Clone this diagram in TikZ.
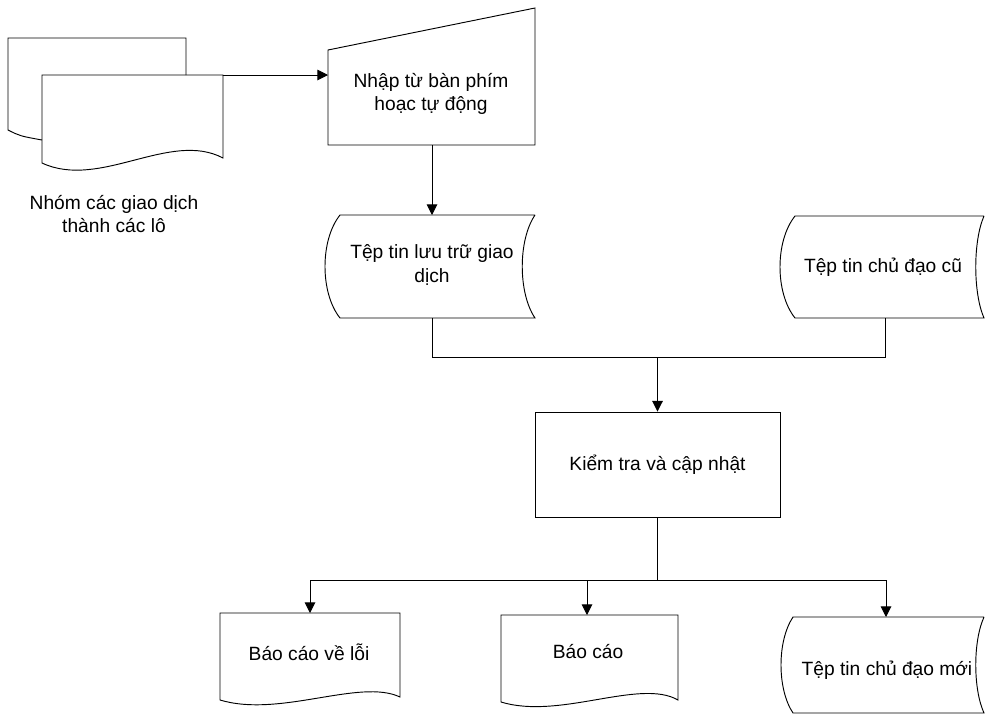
\documentclass[tikz,border=0pt]{standalone}
\usepackage{fontspec}
\setmainfont{Liberation Sans}
\usetikzlibrary{arrows.meta}
\begin{document}
\begin{tikzpicture}[x=0.75pt,y=-0.75pt,
  shp/.style={draw=black,line width=0.7pt},
  conn/.style={draw=black,line width=0.7pt},
  arr/.style={conn,-{Triangle[length=8pt,width=8pt]}},
  lbl/.style={align=center,inner sep=0pt,font=\fontsize{14.4}{17.5}\selectfont}]
\useasboundingbox (0,0) rectangle (985,719);

% ---- multi-document (batch) ----
\draw[shp] (186,75) -- (186,38) -- (8,38) -- (8,130) .. controls (20,136) .. (42,140);
\draw[shp] (42,75) -- (223,75) -- (223,158)
  .. controls (170,130) and (100,190) .. (42,163) -- cycle;
\coordinate (mdocR) at (223,75);
\node[lbl] (grp) at (114,214) {Nhóm các giao dịch\\thành các lô};

% ---- manual input ----
\draw[shp] (328,50) -- (535,8) -- (535,145) -- (328,145) -- cycle;
\coordinate (inpL) at (328,75);
\coordinate (inpB) at (432,145);
\node[lbl] (inp) at (431,94) {Nhập từ bàn phím\\hoạc tự động};

% ---- stored data: transactions ----
\draw[shp] (535,215) -- (340,215) .. controls (320,240) and (320,293) .. (340,318) -- (535,318)
  .. controls (518,293) and (518,240) .. (535,215);
\coordinate (st1T) at (432,215);
\coordinate (st1B) at (432,318);
\node[lbl] (st1) at (432,265) {Tệp tin lưu trữ giao\\dịch};

% ---- stored data: old master ----
\draw[shp] (984,216) -- (795,216) .. controls (775,241) and (775,293) .. (795,318) -- (984,318)
  .. controls (973,293) and (973,241) .. (984,216);
\coordinate (st2B) at (885,318);
\node[lbl] (st2) at (883,267) {Tệp tin chủ đạo cũ};

% ---- process ----
\node[shp,lbl,minimum width=245*0.75pt,minimum height=105*0.75pt] (proc) at (657.5,464.5) {Kiểm tra và cập nhật};

% ---- error report document ----
\draw[shp] (220,613) -- (400,613) -- (400,697)
  .. controls (360,678) and (280,718) .. (220,700) -- cycle;
\coordinate (errT) at (310,613);
\node[lbl] (err) at (309,652) {Báo cáo về lỗi};

% ---- report document ----
\draw[shp] (501,615) -- (678,615) -- (678,700)
  .. controls (640,678) and (560,720) .. (501,702) -- cycle;
\coordinate (repT) at (587,615);
\node[lbl] (rep) at (588,652) {Báo cáo};

% ---- stored data: new master ----
\draw[shp] (984,617) -- (793,617) .. controls (777,641) and (777,689) .. (793,713) -- (984,713)
  .. controls (973,689) and (973,641) .. (984,617);
\coordinate (newT) at (886,617);
\node[lbl] (new) at (887,670) {Tệp tin chủ đạo mới};

% ---- connectors ----
\coordinate (j1) at (657.5,357);
\coordinate (j2) at (657.5,580);
\draw[arr] (mdocR) -- (inpL);
\draw[arr] (inpB) -- (st1T);
\draw[conn] (st1B) |- (j1);
\draw[conn] (st2B) |- (j1);
\draw[arr] (j1) -- (proc.north);
\draw[conn] (proc.south) -- (j2);
\draw[arr] (j2) -| (errT);
\draw[arr] (j2) -| (repT);
\draw[arr] (j2) -| (newT);
\end{tikzpicture}
\end{document}
